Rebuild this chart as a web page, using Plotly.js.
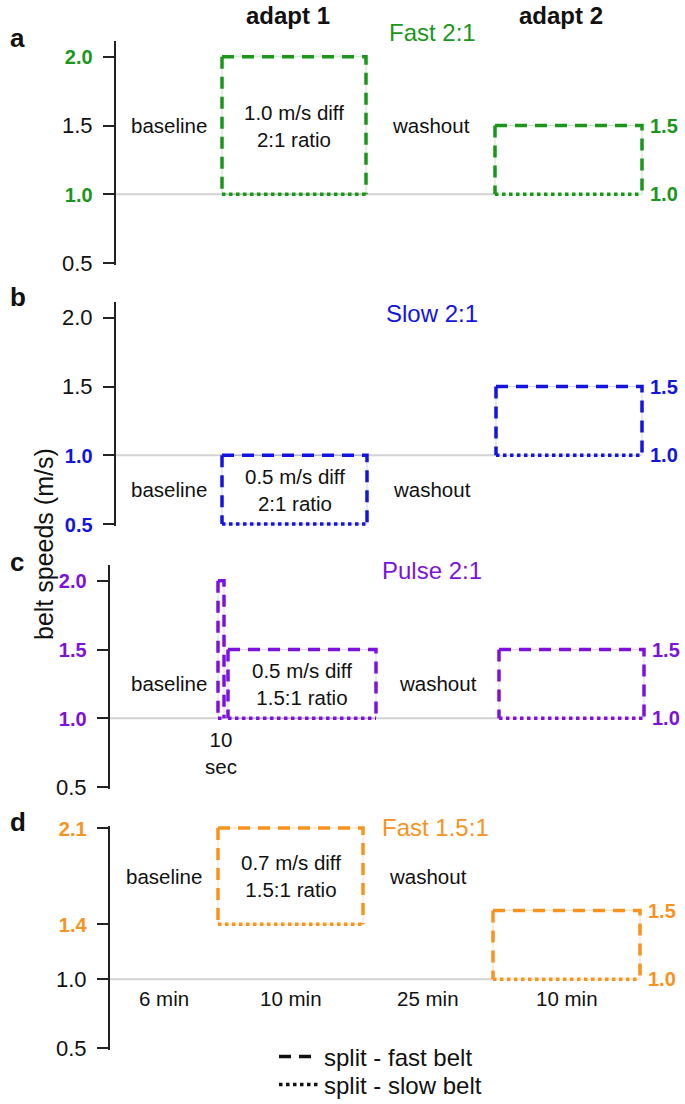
<!DOCTYPE html>
<html>
<head>
<meta charset="utf-8">
<script src="https://cdn.plot.ly/plotly-3.0.1.min.js"></script>
<style>html,body{margin:0;padding:0;background:#fff}#chart{width:685px;height:1104px}</style>
</head>
<body>
<div id="chart"></div>
<script>
// ---------------- data ----------------
const panelLetters = ['a', 'b', 'c', 'd'];
const panelTitles = ['Fast 2:1', 'Slow 2:1', 'Pulse 2:1', 'Fast 1.5:1'];
const phaseNames = ['baseline', 'adapt 1', 'washout', 'adapt 2'];
const phaseDurations = ['6 min', '10 min', '25 min', '10 min'];
const tiedSpeed = 1.0;

// schematic timeline: phase boundaries (drawing units) for each panel
const edgesA = [0, 106, 250, 379, 526];
const edgesB = [0, 106, 251, 380, 526];
const edgesC = [0, 118, 266, 389, 534];
const edgesD = [0, 108, 253, 383, 530];
const pulseEdgesC = [108, 114];

// belt speeds (m/s): [adapt 1, adapt 2]
const fastA = [2.0, 1.5], slowA = [1.0, 1.0];
const fastB = [1.0, 1.5], slowB = [0.5, 1.0];
const fastC = [1.5, 1.5], slowC = [1.0, 1.0];
const fastD = [2.1, 1.5], slowD = [1.4, 1.0];
const pulseFastC = 2.0, pulseSlowC = 1.0;

// y tick values
const ticksA = [0.5, 1.0, 1.5, 2.0];
const ticksB = [0.5, 1.0, 1.5, 2.0];
const ticksC = [0.5, 1.0, 1.5, 2.0];
const ticksD = [0.5, 1.0, 1.4, 2.1];

const diffLabels = ['1.0 m/s diff', '0.5 m/s diff', '0.5 m/s diff', '0.7 m/s diff'];
const ratioLabels = ['2:1 ratio', '2:1 ratio', '1.5:1 ratio', '1.5:1 ratio'];
const pulseLabel = '10<br>sec';
const yTitle = 'belt speeds (m/s)';
const legendNames = ['split - fast belt', 'split - slow belt'];

// ---------------- style / layout ----------------
const W = 685, H = 1104;
const FONT = 'Liberation Sans, Arial, Helvetica, sans-serif';
const colors = ['#1a961a', '#1414e0', '#7d12dc', '#f7931e'];
const lightColors = ['rgba(26,150,26,0.25)', 'rgba(20,20,224,0.2)', 'rgba(125,18,220,0.2)', 'rgba(247,147,30,0.3)'];
const axisLeftPx = [116, 116, 110, 110];
const axisBottomPx = [263, 524, 787, 1048];
const axisHeightPx = 220;           // pixels spanned by 0.5 .. 2.1 m/s
const padPx = 2;                    // small pad so edge lines are not clipped
const titleLeftPx = [387, 384, 380, 380];
const titleYPx = [33, 313, 570, 827];
const letterYPx = [38, 297, 562, 822];
const yLo = 0.5, yHi = 2.1;
const pxPerUnit = axisHeightPx / (yHi - yLo);
const yRange = [yLo - padPx / pxPerUnit, yHi + padPx / pxPerUnit];
const DASH = '12px,8px';
const LW = 3.5;

const panels = [
  {edges: edgesA, fast: fastA, slow: slowA, ticks: ticksA},
  {edges: edgesB, fast: fastB, slow: slowB, ticks: ticksB},
  {edges: edgesC, fast: fastC, slow: slowC, ticks: ticksC, pulse: {edges: pulseEdgesC, fast: pulseFastC, slow: pulseSlowC}},
  {edges: edgesD, fast: fastD, slow: slowD, ticks: ticksD},
];

const traces = [];
const legFont = {family: FONT, size: 24, color: '#111'};
const layout = {
  width: W, height: H,
  margin: {l: 0, r: 0, t: 0, b: 0, autoexpand: false},
  paper_bgcolor: '#fff', plot_bgcolor: 'rgba(0,0,0,0)',
  showlegend: true,
  legend: {x: 274 / W, y: 1 - 1057 / H, xanchor: 'left', yanchor: 'middle',
           font: legFont, bgcolor: 'rgba(0,0,0,0)', itemwidth: 40},
  legend2: {x: 274 / W, y: 1 - 1085 / H, xanchor: 'left', yanchor: 'middle',
           font: legFont, bgcolor: 'rgba(0,0,0,0)', itemwidth: 40},
  annotations: [], shapes: []
};

function addBox(ax, x0, x1, yLow, yHigh, i) {
  const xa = 'x' + ax, ya = 'y' + ax;
  // faint full outline
  traces.push({x: [x0, x1, x1, x0, x0], y: [yLow, yLow, yHigh, yHigh, yLow], xaxis: xa, yaxis: ya,
    mode: 'lines', line: {color: lightColors[i], width: 1}, showlegend: false, hoverinfo: 'skip'});
  // fast belt (dashed): left side, top and right side
  traces.push({x: [x0, x0], y: [yHigh, yLow], xaxis: xa, yaxis: ya, mode: 'lines',
    line: {color: colors[i], width: LW, dash: DASH}, showlegend: false, hoverinfo: 'skip'});
  traces.push({x: [x0, x1, x1], y: [yHigh, yHigh, yLow], xaxis: xa, yaxis: ya, mode: 'lines',
    line: {color: colors[i], width: LW, dash: DASH}, showlegend: false, hoverinfo: 'skip'});
  // slow belt (dotted): bottom
  traces.push({x: [x0, x1], y: [yLow, yLow], xaxis: xa, yaxis: ya, mode: 'lines',
    line: {color: colors[i], width: LW, dash: 'dot'}, showlegend: false, hoverinfo: 'skip'});
}

panels.forEach((p, i) => {
  const ax = i === 0 ? '' : String(i + 1);
  const xa = 'x' + ax, ya = 'y' + ax;
  const d0 = axisLeftPx[i] / W;
  const bottomPx = axisBottomPx[i] + padPx;
  const topPx = axisBottomPx[i] - axisHeightPx - padPx;
  layout['xaxis' + ax] = {domain: [d0, 1], range: [0, W - axisLeftPx[i]], visible: false,
    anchor: ya, fixedrange: true};
  const colored = new Set([p.fast[0], p.slow[0]].concat(p.pulse ? [p.pulse.fast, p.pulse.slow] : []));
  layout['yaxis' + ax] = {
    domain: [1 - bottomPx / H, 1 - topPx / H], range: yRange, anchor: xa,
    showline: true, linecolor: '#222', linewidth: 2, ticks: 'outside', ticklen: 11,
    tickwidth: 2, tickcolor: '#222', showgrid: false, zeroline: false, fixedrange: true,
    automargin: false, ticklabelstandoff: 6,
    tickvals: p.ticks,
    ticktext: p.ticks.map(v => colored.has(v)
      ? `<b><span style="color:${colors[i]};font-size:20px">${v.toFixed(1)}</span></b>` : v.toFixed(1)),
    tickfont: {family: FONT, size: 22, color: '#111'}
  };
  const e = p.edges;
  // tied belts reference line
  traces.push({x: [e[0], e[3]], y: [tiedSpeed, tiedSpeed], xaxis: xa, yaxis: ya, mode: 'lines',
    line: {color: '#d2d2d2', width: 2}, showlegend: false, hoverinfo: 'skip'});
  if (p.pulse) addBox(ax, p.pulse.edges[0], p.pulse.edges[1], p.pulse.slow, p.pulse.fast, i);
  addBox(ax, e[1], e[2], p.slow[0], p.fast[0], i);
  addBox(ax, e[3], e[4], p.slow[1], p.fast[1], i);

  const midY = (p.slow[0] + p.fast[0]) / 2;
  const txt = {family: FONT, size: 20.5, color: '#111'};
  layout.annotations.push(
    {xref: xa, yref: ya, x: (e[0] + e[1]) / 2, y: midY, text: phaseNames[0], showarrow: false, font: txt},
    {xref: xa, yref: ya, x: (e[1] + e[2]) / 2, y: midY, text: diffLabels[i] + '<br>' + ratioLabels[i], showarrow: false, font: txt},
    {xref: xa, yref: ya, x: (e[2] + e[3]) / 2, y: midY, text: phaseNames[2], showarrow: false, font: txt},
    {xref: xa, yref: ya, x: e[4], y: p.fast[1], text: `<b>${p.fast[1].toFixed(1)}</b>`, xanchor: 'left', xshift: 6, showarrow: false, font: {family: FONT, size: 20, color: colors[i]}},
    {xref: xa, yref: ya, x: e[4], y: p.slow[1], text: `<b>${p.slow[1].toFixed(1)}</b>`, xanchor: 'left', xshift: 6, showarrow: false, font: {family: FONT, size: 20, color: colors[i]}},
    {xref: 'paper', yref: 'paper', x: titleLeftPx[i] / W, y: 1 - titleYPx[i] / H, text: panelTitles[i], xanchor: 'left', yanchor: 'middle', showarrow: false, font: {family: FONT, size: 24, color: colors[i]}},
    {xref: 'paper', yref: 'paper', x: 8 / W, y: 1 - letterYPx[i] / H, text: `<b>${panelLetters[i]}</b>`, xanchor: 'left', yanchor: 'middle', showarrow: false, font: {family: FONT, size: 26, color: '#111'}}
  );
  if (p.pulse) {
    layout.annotations.push({xref: xa, yref: ya, x: (p.pulse.edges[0] + p.pulse.edges[1]) / 2, y: 0.75,
      text: pulseLabel, showarrow: false, font: txt});
  }
  if (i === 3) {
    for (let k = 0; k < 4; k++) {
      layout.annotations.push({xref: xa, yref: ya, x: (e[k] + e[k + 1]) / 2, y: 0.86,
        text: phaseDurations[k], showarrow: false, font: txt});
    }
  }
  if (i === 0) {
    const hdr = {family: FONT, size: 24, color: '#111'};
    layout.annotations.push(
      {xref: xa, yref: 'paper', x: (e[1] + e[2]) / 2, xshift: -6, y: 1 - 16 / H, yanchor: 'middle', xanchor: 'center', text: `<b>${phaseNames[1]}</b>`, showarrow: false, font: hdr},
      {xref: xa, yref: 'paper', x: (e[3] + e[4]) / 2, xshift: -8, y: 1 - 16 / H, yanchor: 'middle', xanchor: 'center', text: `<b>${phaseNames[3]}</b>`, showarrow: false, font: hdr}
    );
  }
});

// y axis title
layout.annotations.push({xref: 'paper', yref: 'paper', x: 44 / W, y: 1 - 544 / H, text: yTitle,
  xanchor: 'center', yanchor: 'middle',
  textangle: -90, showarrow: false, font: {family: FONT, size: 25, color: '#111'}});

// legend entries
traces.push({x: [null], y: [null], xaxis: 'x4', yaxis: 'y4', mode: 'lines', name: legendNames[0],
  legend: 'legend', line: {color: '#111', width: LW, dash: DASH}, hoverinfo: 'skip'});
traces.push({x: [null], y: [null], xaxis: 'x4', yaxis: 'y4', mode: 'lines', name: legendNames[1],
  legend: 'legend2', line: {color: '#111', width: LW, dash: 'dot'}, hoverinfo: 'skip'});

Plotly.newPlot('chart', traces, layout, {displayModeBar: false, staticPlot: true});
</script>
</body>
</html>
